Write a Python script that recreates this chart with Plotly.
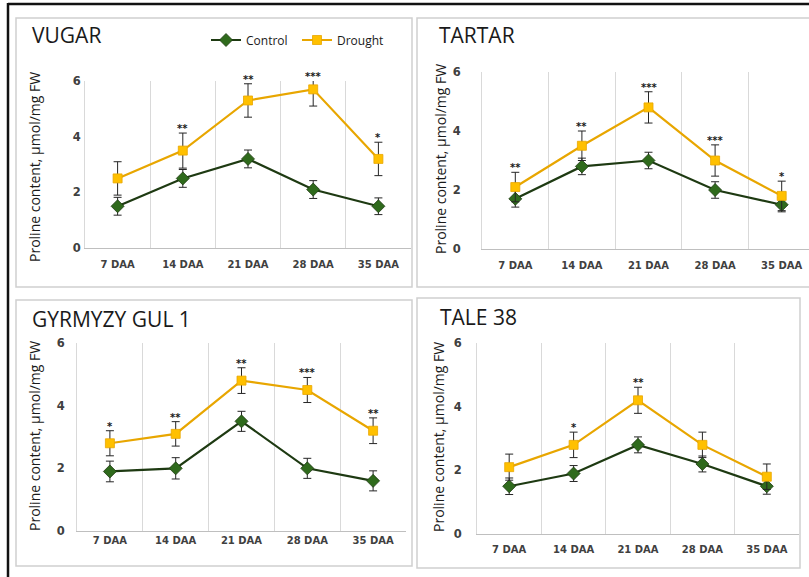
import plotly.graph_objects as go

W, H = 809, 577

categories = ["7 DAA", "14 DAA", "21 DAA", "28 DAA", "35 DAA"]
panel_titles = ["VUGAR", "TARTAR", "GYRMYZY GUL 1", "TALE 38"]
y_title = "Proline content, µmol/mg FW"
series_names = ["Control", "Drought"]

vugar_control = [1.5, 2.5, 3.2, 2.1, 1.5]
vugar_control_err = [0.32, 0.32, 0.32, 0.32, 0.3]
vugar_drought = [2.5, 3.5, 5.3, 5.7, 3.2]
vugar_drought_err = [0.6, 0.63, 0.6, 0.6, 0.6]
vugar_sig = ["", "**", "**", "***", "*"]

tartar_control = [1.7, 2.8, 3.0, 2.0, 1.5]
tartar_control_err = [0.28, 0.28, 0.28, 0.28, 0.24]
tartar_drought = [2.1, 3.5, 4.8, 3.0, 1.8]
tartar_drought_err = [0.5, 0.5, 0.53, 0.53, 0.5]
tartar_sig = ["**", "**", "***", "***", "*"]

gyrmyzy_control = [1.9, 2.0, 3.5, 2.0, 1.6]
gyrmyzy_control_err = [0.33, 0.34, 0.32, 0.32, 0.32]
gyrmyzy_drought = [2.8, 3.1, 4.8, 4.5, 3.2]
gyrmyzy_drought_err = [0.4, 0.39, 0.41, 0.4, 0.41]
gyrmyzy_sig = ["*", "**", "**", "***", "**"]

tale_control = [1.5, 1.9, 2.8, 2.2, 1.5]
tale_control_err = [0.26, 0.25, 0.25, 0.25, 0.25]
tale_drought = [2.1, 2.8, 4.2, 2.8, 1.8]
tale_drought_err = [0.41, 0.4, 0.41, 0.4, 0.4]
tale_sig = ["", "*", "**", "", ""]

panels_data = [
    (vugar_control, vugar_control_err, vugar_drought, vugar_drought_err, vugar_sig),
    (tartar_control, tartar_control_err, tartar_drought, tartar_drought_err, tartar_sig),
    (gyrmyzy_control, gyrmyzy_control_err, gyrmyzy_drought, gyrmyzy_drought_err, gyrmyzy_sig),
    (tale_control, tale_control_err, tale_drought, tale_drought_err, tale_sig),
]

# layout geometry in pixels
geo = [
    dict(box=(16, 18, 412, 287), plot=(85, 81, 411, 248), xmax=4.5, ylab_std=1, xlab_std=7,
         title=(30, 35), ytitle=(34, 167)),
    dict(box=(417, 18, 813, 287), plot=(482, 72, 809, 249), xmax=4.41, ylab_std=18, xlab_std=7,
         title=(437, 35), ytitle=(440, 159)),
    dict(box=(16, 300, 412, 566), plot=(77, 343, 406, 531), xmax=4.5, ylab_std=9, xlab_std=0,
         title=(30, 319), ytitle=(34, 436)),
    dict(box=(417, 298, 800, 568), plot=(477, 343, 799, 534), xmax=4.5, ylab_std=12, xlab_std=6,
         title=(438, 317), ytitle=(438, 437)),
]

CTRL_LINE = "#1E3A12"
CTRL_MARK = "#2F6A1C"
DR_LINE = "#E8A600"
DR_MARK = "#FFC000"
GRID = "#D9D9D9"
TXT = "#404040"

fig = go.Figure()
annotations = []
shapes = []

for i, (g, d) in enumerate(zip(geo, panels_data)):
    n = "" if i == 0 else str(i + 1)
    ctrl, ctrl_err, dr, dr_err, sig = d
    fig.add_trace(go.Scatter(
        x=categories, y=ctrl, name=series_names[0], mode="lines+markers",
        xaxis="x" + n, yaxis="y" + n, legendgroup="c", showlegend=(i == 0),
        line=dict(color=CTRL_LINE, width=2.2),
        marker=dict(symbol="diamond", size=10, color=CTRL_MARK, line=dict(color=CTRL_LINE, width=0.8)),
        error_y=dict(type="data", array=ctrl_err, color="#262626", thickness=1, width=4),
    ))
    fig.add_trace(go.Scatter(
        x=categories, y=dr, name=series_names[1], mode="lines+markers",
        xaxis="x" + n, yaxis="y" + n, legendgroup="d", showlegend=(i == 0),
        line=dict(color=DR_LINE, width=2.2),
        marker=dict(symbol="square", size=9, color=DR_MARK, line=dict(color=DR_LINE, width=0.8)),
        error_y=dict(type="data", array=dr_err, color="#262626", thickness=1, width=4),
    ))
    l, t, r, b = g["plot"]
    fig.update_layout(**{
        "xaxis" + n: dict(
            domain=[l / W, min(r / W, 1.0)], anchor="y" + n, type="category",
            range=[-0.5, g["xmax"]], tickson="boundaries", showgrid=True, gridcolor=GRID,
            gridwidth=1, showline=True, linecolor="#BFBFBF", linewidth=1, ticks="",
            ticklabelstandoff=g["xlab_std"], fixedrange=True, automargin=False,
            tickfont=dict(family="DejaVu Sans", size=10, color=TXT, weight="bold"),
        ),
        "yaxis" + n: dict(
            domain=[1 - b / H, 1 - t / H], anchor="x" + n, range=[0, 6], dtick=2,
            showgrid=False, zeroline=False, showline=True, linecolor=GRID, linewidth=1,
            ticks="", ticklabelstandoff=g["ylab_std"], automargin=False, fixedrange=True,
            tickfont=dict(family="DejaVu Sans", size=11.5, color=TXT, weight="bold"),
        ),
    })
    # panel box
    bl, bt, br, bb = g["box"]
    shapes.append(dict(type="rect", xref="paper", yref="paper", x0=bl / W, x1=br / W,
                       y0=1 - bb / H, y1=1 - bt / H, line=dict(color="#D0D0D0", width=1.5),
                       layer="below"))
    # panel title
    annotations.append(dict(text=panel_titles[i], xref="paper", yref="paper",
                            x=g["title"][0] / W, y=1 - g["title"][1] / H, xanchor="left",
                            yanchor="middle", showarrow=False,
                            font=dict(family="Open Sans", size=21, color="#1a1a1a")))
    # y title
    annotations.append(dict(text=y_title, xref="paper", yref="paper",
                            x=g["ytitle"][0] / W, y=1 - g["ytitle"][1] / H, xanchor="center",
                            yanchor="middle", showarrow=False, textangle=-90,
                            font=dict(family="Open Sans", size=14, color="#1a1a1a")))
    # significance marks
    for c, v, e, s in zip(categories, dr, dr_err, sig):
        if s:
            annotations.append(dict(text=s, xref="x" + n, yref="y" + n, x=c,
                                    y=min(v + e, 6), yanchor="bottom", showarrow=False,
                                    yshift=-3, font=dict(family="DejaVu Sans", size=10,
                                                         color="#1a1a1a", weight="bold")))

# outer black frame (left and top)
shapes.append(dict(type="line", xref="paper", yref="paper", x0=8 / W, x1=8 / W, y0=0, y1=1 - 3 / H,
                   line=dict(color="#111111", width=2.5)))
shapes.append(dict(type="line", xref="paper", yref="paper", x0=8 / W, x1=1, y0=1 - 4 / H, y1=1 - 4 / H,
                   line=dict(color="#111111", width=2.5)))

fig.update_layout(
    width=W, height=H, margin=dict(l=0, r=0, t=0, b=0, autoexpand=False),
    paper_bgcolor="white", plot_bgcolor="white",
    annotations=annotations, shapes=shapes,
    legend=dict(orientation="h", x=206 / W, y=1 - 40 / H, xanchor="left", yanchor="middle",
                font=dict(family="Open Sans", size=12, color="#1a1a1a"),
                bgcolor="rgba(0,0,0,0)", entrywidth=46, entrywidthmode="pixels",
                itemwidth=30, tracegroupgap=0),
)

fig.write_html(
    "out.html",
    config={"displayModeBar": False},
    post_script="document.body.style.margin='0';document.body.style.padding='0';"
                "document.documentElement.style.overflow='hidden';",
)
